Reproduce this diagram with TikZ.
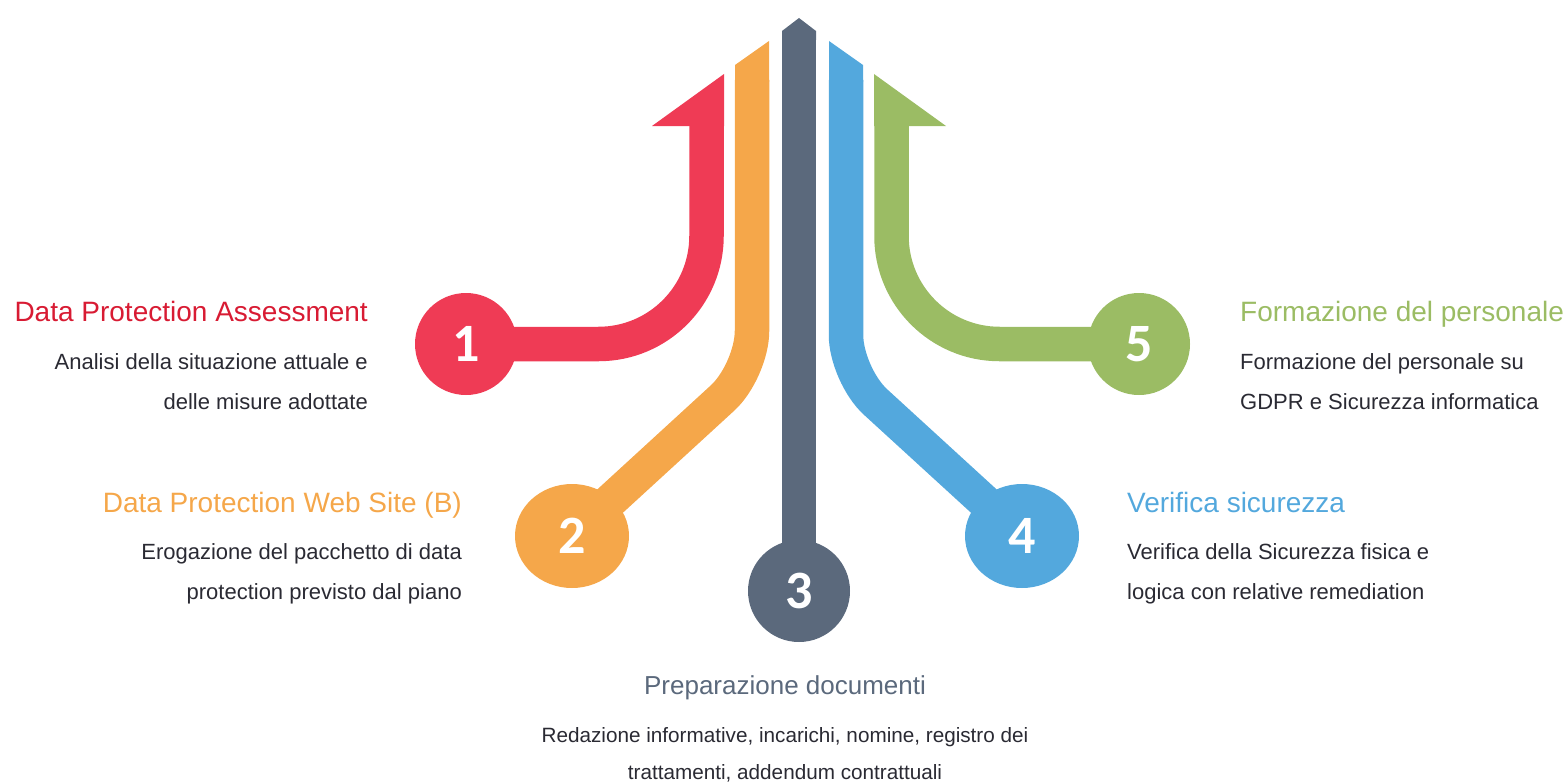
\documentclass[tikz,border=0pt]{standalone}
\usepackage{fontspec}
\setmainfont{Liberation Sans}
\newfontfamily\numfont{Carlito}
\usetikzlibrary{shapes.geometric,backgrounds}
\definecolor{cred}{HTML}{EF3B55}
\definecolor{cora}{HTML}{F5A74A}
\definecolor{cgray}{HTML}{5B697C}
\definecolor{cblue}{HTML}{53A8DD}
\definecolor{cgreen}{HTML}{9BBC64}
\definecolor{tred}{HTML}{D81B33}
\definecolor{tbody}{HTML}{2A2A33}
\tikzset{
  band/.style={line width=34.5pt, line cap=butt},
  numcirc/.style={circle, minimum size=102pt, inner sep=0pt, text=white, font=\numfont\bfseries\fontsize{54}{54}\selectfont},
  numell/.style={ellipse, minimum width=114pt, minimum height=104pt, inner sep=0pt, text=white, font=\numfont\bfseries\fontsize{54}{54}\selectfont},
  ttl/.style={inner sep=0pt, font=\fontsize{28}{30}\selectfont},
  bdy/.style={inner sep=0pt, text=tbody, font=\fontsize{22}{24}\selectfont},
  ttlb/.style={inner sep=0pt, font=\fontsize{26}{28}\selectfont},
  bdyb/.style={inner sep=0pt, text=tbody, font=\fontsize{20.7}{22}\selectfont},
}
\begin{document}
\begin{tikzpicture}[x=1pt,y=-1pt]
\useasboundingbox (0,0) rectangle (1564,784);
% number nodes
\node[numcirc, fill=cred] (c1) at (466,344) {1};
\node[numell, fill=cora] (c2) at (572,536) {2};
\node[numcirc, fill=cgray] (c3) at (799,591) {3};
\node[numell, fill=cblue] (c4) at (1022,536) {4};
\node[numcirc, fill=cgreen] (c5) at (1139,344) {5};
% top ends of the bands
\coordinate (rt) at (706.5,120);
\coordinate (ot) at (752,80);
\coordinate (gt) at (799,38);
\coordinate (bt) at (846,80);
\coordinate (grt) at (891.5,120);
\begin{scope}[on background layer]
  % red
  \fill[cred] (652,126) -- (724,74) -- (724,126) -- cycle;
  \draw[band, cred, rounded corners=108pt] (c1.center) -| (rt);
  % orange
  \fill[cora] (735,65) -- (769,41) -- (769,82) -- (735,82) -- cycle;
  \draw[band, cora, rounded corners=40pt] (c2.center) -- (752,371) -- (ot);
  % gray
  \fill[cgray] (782,31) -- (799,18) -- (816,31) -- (816,40) -- (782,40) -- cycle;
  \draw[band, cgray] (c3.center) -- (gt);
  % blue
  \fill[cblue] (829,41) -- (863,65) -- (863,82) -- (829,82) -- cycle;
  \draw[band, cblue, rounded corners=40pt] (c4.center) -- (846,375) -- (bt);
  % green
  \fill[cgreen] (874,74) -- (946,126) -- (874,126) -- cycle;
  \draw[band, cgreen, rounded corners=108pt] (c5.center) -| (grt);
\end{scope}
% texts block 1
\node[ttl, text=tred, anchor=base east] (t1) at (368,321) {Data Protection Assessment};
\node[bdy, anchor=base east] (t1a) at (368,369) {Analisi della situazione attuale e};
\node[bdy, anchor=base east] (t1b) at (368,409) {delle misure adottate};
% block 2
\node[ttl, text=cora, anchor=base east] (t2) at (462,512) {Data Protection Web Site (B)};
\node[bdy, anchor=base east] (t2a) at (462,559) {Erogazione del pacchetto di data};
\node[bdy, anchor=base east] (t2b) at (462,599) {protection previsto dal piano};
% block 3
\node[ttlb, text=cgray, anchor=base] (t3) at (785,694) {Preparazione documenti};
\node[bdyb, anchor=base] (t3a) at (785,742) {Redazione informative, incarichi, nomine, registro dei};
\node[bdyb, anchor=base] (t3b) at (785,779) {trattamenti, addendum contrattuali};
% block 4
\node[ttl, text=cblue, anchor=base west] (t4) at (1127,512) {Verifica sicurezza};
\node[bdy, anchor=base west] (t4a) at (1127,559) {Verifica della Sicurezza fisica e};
\node[bdy, anchor=base west] (t4b) at (1127,599) {logica con relative remediation};
% block 5
\node[ttl, text=cgreen, anchor=base west] (t5) at (1240,321) {Formazione del personale};
\node[bdy, anchor=base west] (t5a) at (1240,369) {Formazione del personale su};
\node[bdy, anchor=base west] (t5b) at (1240,409) {GDPR e Sicurezza informatica};
\end{tikzpicture}
\end{document}
